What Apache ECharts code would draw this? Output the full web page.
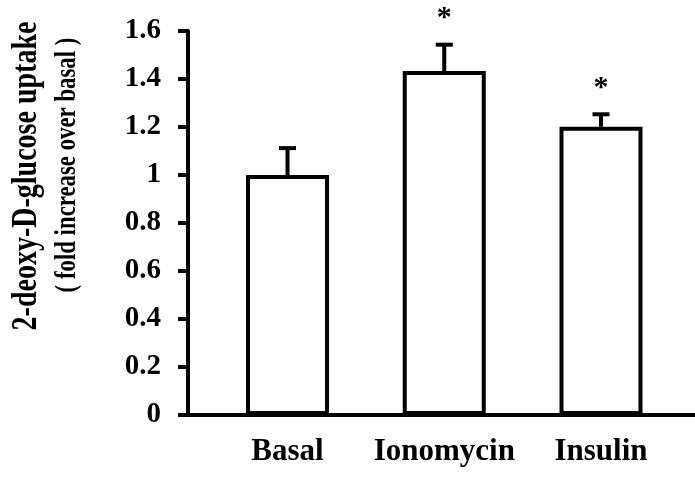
<!DOCTYPE html>
<html>
<head>
<meta charset="utf-8">
<script src="https://cdn.jsdelivr.net/npm/echarts@6/dist/echarts.min.js"></script>
<style>
html,body{margin:0;padding:0;background:#fff;}
#chart{width:695px;height:477px;}
</style>
</head>
<body>
<div id="chart"></div>
<script>
const categories = ['Basal', 'Ionomycin', 'Insulin'];
const means = [1.0, 1.433, 1.201];
const upperErrors = [0.112, 0.11, 0.052];
const significance = ['', '*', '*'];
const yMin = 0, yMax = 1.6, yInterval = 0.2;
const yTitle = '2-deoxy-D-glucose uptake';
const ySubtitle = '( fold increase over basal )';

const FONT = '"Liberation Serif", "Times New Roman", serif';
const chart = echarts.init(document.getElementById('chart'), null, {renderer: 'canvas'});

const barData = categories.map((c, i) => [i, means[i]]);
const errData = categories.map((c, i) => [i, means[i], upperErrors[i]]);

chart.setOption({
  animation: false,
  backgroundColor: '#fff',
  grid: {left: 188, right: 0, top: 31, bottom: 62, containLabel: false, outerBoundsMode: 'none'},
  xAxis: {
    type: 'value',
    min: -0.6348, max: 2.5997,
    axisLine: {show: true, onZero: false, lineStyle: {color: '#000', width: 4}},
    axisTick: {show: false},
    splitLine: {show: false},
    axisLabel: {
      customValues: [0, 1, 2],
      formatter: v => categories[Math.round(v)] || '',
      color: '#000', fontFamily: FONT, fontWeight: 'bold', fontSize: 31, margin: 21
    }
  },
  yAxis: {
    type: 'value',
    min: yMin, max: yMax, interval: yInterval,
    axisLine: {show: true, onZero: false, lineStyle: {color: '#000', width: 4}},
    axisTick: {show: true, inside: false, length: 10, lineStyle: {color: '#000', width: 4}},
    splitLine: {show: false},
    axisLabel: {
      color: '#000', fontFamily: FONT, fontWeight: 'bold', fontSize: 29, margin: 27,
      formatter: v => String(Math.round(v * 10) / 10)
    }
  },
  graphic: [
    {type: 'text', x: 27, y: 176, rotation: Math.PI / 2, scaleX: 0.8,
     style: {text: yTitle, fill: '#000', font: 'bold 35px ' + FONT, align: 'center', verticalAlign: 'middle'}},
    {type: 'text', x: 67, y: 165, rotation: Math.PI / 2, scaleX: 0.76,
     style: {text: ySubtitle, fill: '#000', font: 'bold 30px ' + FONT, align: 'center', verticalAlign: 'middle'}}
  ],
  series: [
    {
      type: 'bar',
      data: barData,
      barWidth: 83,
      itemStyle: {color: '#fff', borderColor: '#000', borderWidth: 4},
      z: 2
    },
    {
      type: 'custom',
      data: errData,
      z: 3,
      renderItem: function (params, api) {
        const x = api.value(0), m = api.value(1), e = api.value(2);
        const base = api.coord([x, m]);
        const top = api.coord([x, m + e]);
        const half = 8.5;
        const children = [
          {type: 'line', shape: {x1: base[0], y1: base[1], x2: top[0], y2: top[1]},
           style: {stroke: '#000', lineWidth: 4}},
          {type: 'line', shape: {x1: top[0] - half, y1: top[1], x2: top[0] + half, y2: top[1]},
           style: {stroke: '#000', lineWidth: 4}}
        ];
        const s = significance[params.dataIndex];
        if (s) {
          children.push({type: 'text', x: top[0], y: top[1] - 26,
            style: {text: s, fill: '#000', font: 'bold 30px ' + FONT, align: 'center', verticalAlign: 'middle'}});
        }
        return {type: 'group', children: children};
      }
    }
  ]
});
</script>
</body>
</html>
